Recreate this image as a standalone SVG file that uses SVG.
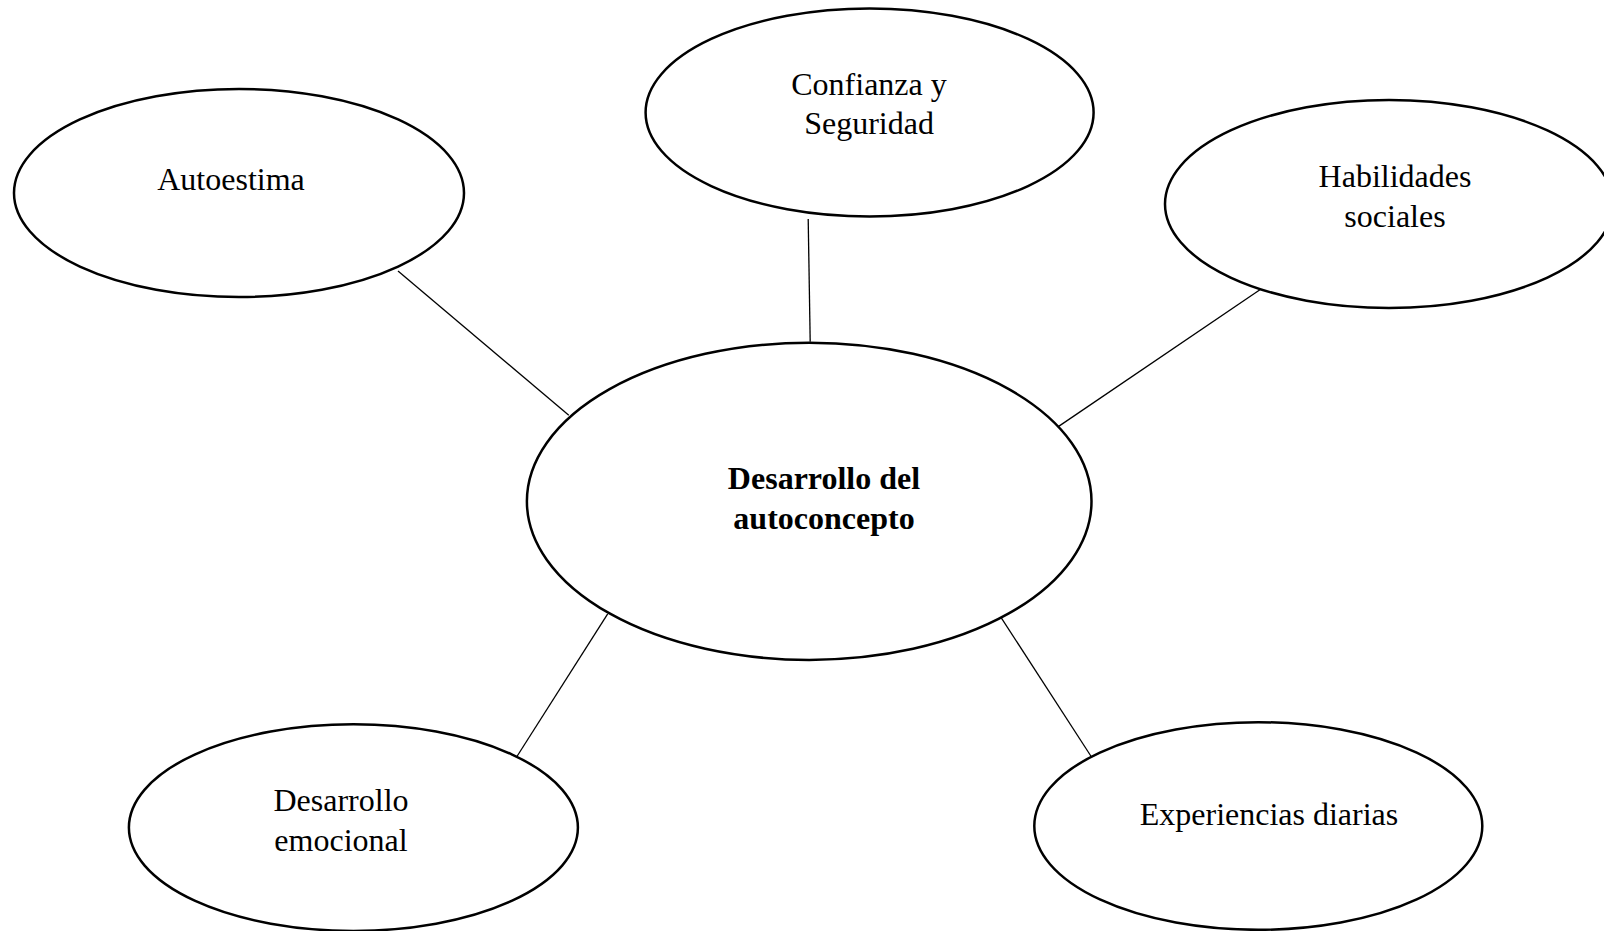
<svg xmlns="http://www.w3.org/2000/svg" width="1604" height="931" viewBox="0 0 1604 931">
<style>
.n{fill:#fff;stroke:#000;stroke-width:2.5}
.t{font-family:"Liberation Serif","Times New Roman",serif;font-size:32px;fill:#000;text-anchor:middle}
.b{font-weight:bold}
.c line{stroke:#000;stroke-width:1.3}
</style>
<rect width="1604" height="931" fill="#fff"/>
<g id="connectors" class="c">
<line x1="398" y1="271" x2="568.8" y2="415.3"/>
<line x1="808.2" y1="218.9" x2="810.2" y2="341.7"/>
<line x1="1260.3" y1="289.5" x2="1056.8" y2="427.6"/>
<line x1="607.7" y1="613.8" x2="516.6" y2="757"/>
<line x1="997.4" y1="611.8" x2="1091.5" y2="757"/>
</g>
<g id="autoestima">
<ellipse class="n" cx="239" cy="193" rx="225" ry="104"/>
<text class="t" x="231" y="190">Autoestima</text>
</g>
<g id="confianza">
<ellipse class="n" cx="869.6" cy="112.5" rx="224" ry="104"/>
<text class="t" x="869" y="95">Confianza y</text>
<text class="t" x="869" y="134">Seguridad</text>
</g>
<g id="habilidades">
<ellipse class="n" cx="1389" cy="204" rx="224" ry="104"/>
<text class="t" x="1395" y="187">Habilidades</text>
<text class="t" x="1395" y="227">sociales</text>
</g>
<g id="centro">
<ellipse class="n" cx="809.2" cy="501.3" rx="282.3" ry="158.6"/>
<text class="t b" x="824" y="489">Desarrollo del</text>
<text class="t b" x="824" y="529">autoconcepto</text>
</g>
<g id="emocional">
<ellipse class="n" cx="353.4" cy="827.6" rx="224.5" ry="103.3"/>
<text class="t" x="341" y="811">Desarrollo</text>
<text class="t" x="341" y="851">emocional</text>
</g>
<g id="experiencias">
<ellipse class="n" cx="1258.3" cy="826" rx="224" ry="103.8"/>
<text class="t" x="1269" y="825">Experiencias diarias</text>
</g>
</svg>
